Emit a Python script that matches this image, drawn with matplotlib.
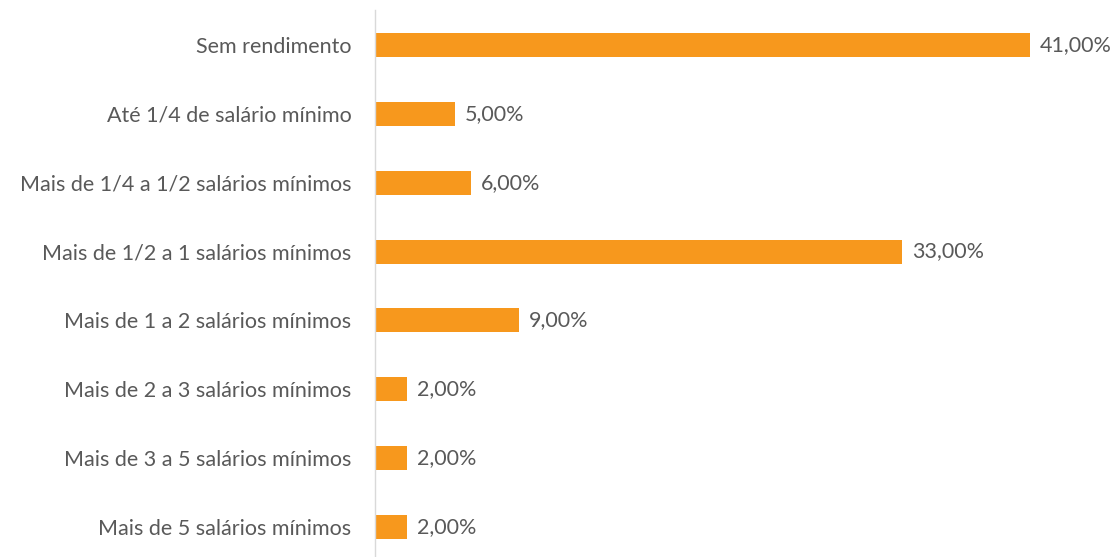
import matplotlib
matplotlib.use("Agg")
import matplotlib.pyplot as plt

categories = [
    "Sem rendimento",
    "Até 1/4 de salário mínimo",
    "Mais de 1/4 a 1/2 salários mínimos",
    "Mais de 1/2 a 1 salários mínimos",
    "Mais de 1 a 2 salários mínimos",
    "Mais de 2 a 3 salários mínimos",
    "Mais de 3 a 5 salários mínimos",
    "Mais de 5 salários mínimos",
]
values = [41, 5, 6, 33, 9, 2, 2, 2]
value_labels = ["41,00%", "5,00%", "6,00%", "33,00%", "9,00%", "2,00%", "2,00%", "2,00%"]

plt.rcParams['font.family'] = ['Lato', 'DejaVu Sans']
fig = plt.figure(figsize=(11.2, 5.57), dpi=100)
ax = fig.add_axes([375/1120, 0, 1 - 375/1120, 1 - 10/557])

y = list(range(len(categories)))
ax.barh(y, values, height=0.35, color="#F7981D")
ax.set_xlim(0, (1120 - 375) / 15.98)
ax.set_ylim(7.436, -0.508)

for yi, v, lab in zip(y, values, value_labels):
    ax.text(v + 0.6, yi, lab, va="center", ha="left", fontsize=15.5, color="#595959")

ax.set_yticks(y)
ax.set_yticklabels(categories, fontsize=15.5, color="#595959")
ax.tick_params(axis="y", length=0, pad=17)
ax.set_xticks([])
for s in ["top", "right", "bottom"]:
    ax.spines[s].set_visible(False)
ax.spines["left"].set_color("#D9D9D9")
ax.spines["left"].set_linewidth(1.0)

fig.savefig("out.png", dpi=100)
